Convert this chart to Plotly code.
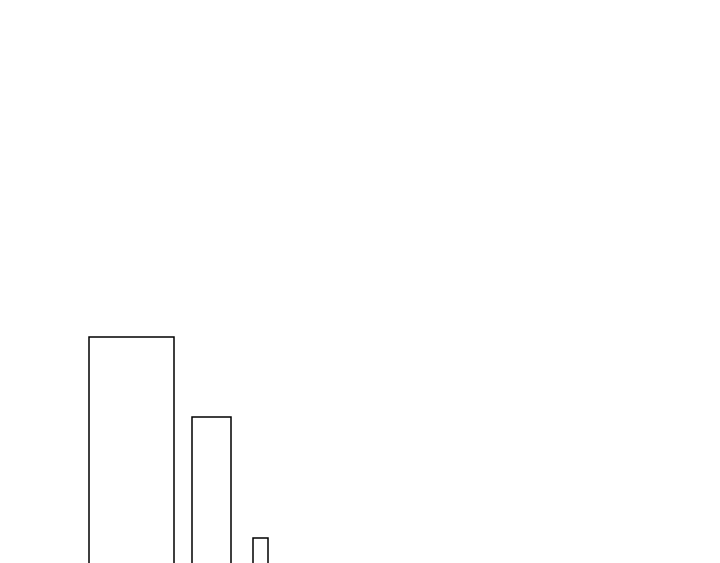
import plotly.graph_objects as go

# bar data (variable-width bars)
centers = [123.5, 203.5, 252.5]
widths = [85, 39, 15]
values = [254, 174, 53]

fig = go.Figure()

fig.add_trace(go.Bar(
    x=centers,
    y=values,
    width=widths,
    marker=dict(color='white', line=dict(color='black', width=1.5)),
    hoverinfo='skip',
    showlegend=False
))

fig.update_layout(
    width=720,
    height=563,
    margin=dict(l=0, r=0, t=0, b=0),
    paper_bgcolor='white',
    plot_bgcolor='white',
    xaxis=dict(range=[0, 720], visible=False),
    yaxis=dict(range=[20, 583], visible=False),
)

fig.write_html("out.html")
